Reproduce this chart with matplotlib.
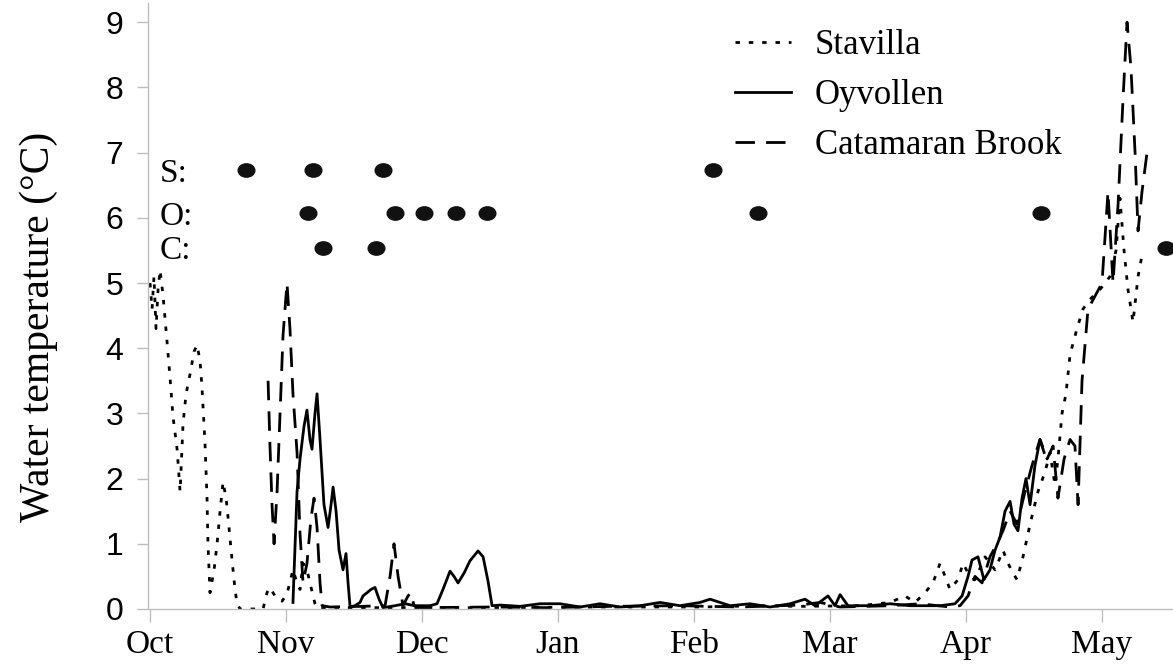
import matplotlib

matplotlib.use("Agg")
import matplotlib.pyplot as plt  # noqa: E402
from matplotlib.path import Path  # noqa: E402
from matplotlib.transforms import Affine2D  # noqa: E402


# x values are months after 1 October (0 = Oct, 1 = Nov, ...)
MONTHS = ["Oct", "Nov", "Dec", "Jan", "Feb", "Mar", "Apr", "May"]

STAVILLA_X = [
    0.000, 0.015, 0.029, 0.044, 0.059, 0.074, 0.096, 0.125, 0.147, 0.169,
    0.199, 0.221, 0.243, 0.265, 0.294, 0.324, 0.346, 0.368, 0.382, 0.404,
    0.419, 0.426, 0.441, 0.471, 0.493, 0.515, 0.537, 0.559, 0.574, 0.603,
    0.625, 0.640, 0.662, 0.831, 0.860, 0.882, 0.904, 0.934, 0.971, 1.007,
    1.051, 1.081, 1.103, 1.125, 1.154, 1.176, 1.213, 1.235, 1.324, 1.838,
    2.574, 3.309, 4.044, 4.485, 4.779, 5.221, 5.441, 5.551, 5.625, 5.699,
    5.757, 5.809, 5.846, 5.882, 5.941, 5.978, 6.015, 6.066, 6.140, 6.213,
    6.272, 6.309, 6.346, 6.375, 6.419, 6.471, 6.529, 6.581, 6.618, 6.654,
    6.676, 6.706, 6.735, 6.765, 6.816, 6.860, 6.912, 6.985, 7.059, 7.103,
    7.132, 7.162, 7.191, 7.228, 7.265, 7.301,
]
STAVILLA_T = [
    5.0, 4.6, 5.1, 4.3, 4.9, 5.2, 4.8, 4.1, 3.55, 2.95,
    2.45, 1.8, 2.85, 3.3, 3.6, 3.95, 4.05, 3.8, 3.4, 2.55,
    1.7, 1.0, 0.25, 0.6, 1.0, 1.5, 1.95, 1.7, 1.4, 0.75,
    0.3, 0.08, 0.0, 0.0, 0.25, 0.33, 0.25, 0.15, 0.12, 0.23,
    0.6, 0.4, 0.3, 0.7, 0.6, 0.4, 0.08, 0.0, 0.02, 0.02,
    0.02, 0.03, 0.03, 0.05, 0.04, 0.05, 0.1, 0.2, 0.1, 0.25,
    0.4, 0.7, 0.5, 0.3, 0.45, 0.7, 0.55, 0.45, 0.8, 0.6,
    0.9, 0.7, 0.55, 0.45, 0.8, 1.3, 1.8, 2.1, 2.4, 1.9,
    2.3, 3.0, 3.3, 3.9, 4.3, 4.6, 4.75, 4.9, 5.1, 5.5,
    6.3, 5.5, 4.9, 4.4, 5.1, 5.5,
]

OYVOLLEN_X = [
    1.051, 1.081, 1.103, 1.132, 1.154, 1.176, 1.191, 1.213, 1.228, 1.250,
    1.279, 1.309, 1.331, 1.346, 1.368, 1.390, 1.419, 1.441, 1.456, 1.471,
    1.507, 1.544, 1.566, 1.596, 1.625, 1.654, 1.684, 1.713, 1.801, 1.875,
    1.949, 2.059, 2.110, 2.154, 2.206, 2.235, 2.265, 2.309, 2.353, 2.412,
    2.449, 2.485, 2.515, 2.574, 2.721, 2.868, 3.015, 3.162, 3.309, 3.456,
    3.603, 3.750, 3.897, 4.044, 4.118, 4.265, 4.412, 4.559, 4.706, 4.816,
    4.890, 4.985, 5.037, 5.074, 5.132, 5.294, 5.441, 5.588, 5.809, 5.919,
    5.971, 6.015, 6.044, 6.088, 6.132, 6.176, 6.213, 6.250, 6.287, 6.324,
    6.353, 6.382, 6.412, 6.441, 6.471, 6.507, 6.544, 6.574,
]
OYVOLLEN_T = [
    0.1, 1.8, 2.3, 2.8, 3.05, 2.6, 2.45, 3.0, 3.3, 2.6,
    1.6, 1.25, 1.6, 1.87, 1.5, 0.9, 0.6, 0.85, 0.4, 0.03,
    0.05, 0.1, 0.2, 0.25, 0.3, 0.33, 0.15, 0.02, 0.05, 0.08,
    0.05, 0.05, 0.08, 0.3, 0.58, 0.5, 0.4, 0.55, 0.74, 0.89,
    0.8, 0.43, 0.05, 0.06, 0.04, 0.08, 0.08, 0.03, 0.08, 0.03,
    0.05, 0.1, 0.05, 0.1, 0.15, 0.05, 0.08, 0.03, 0.08, 0.15,
    0.05, 0.2, 0.05, 0.22, 0.05, 0.05, 0.08, 0.05, 0.05, 0.08,
    0.2, 0.5, 0.75, 0.8, 0.45, 0.6, 0.9, 1.1, 1.5, 1.65,
    1.3, 1.2, 1.7, 2.0, 1.6, 2.2, 2.6, 2.4,
]

CATAMARAN_X = [
    0.868, 0.882, 0.897, 0.912, 0.934, 0.956, 0.978, 1.007, 1.029, 1.051,
    1.081, 1.103, 1.125, 1.154, 1.184, 1.206, 1.228, 1.250, 1.265, 1.324,
    1.544, 1.728, 1.765, 1.794, 1.824, 1.860, 1.897, 1.919, 1.941, 1.985,
    2.500, 2.941, 3.382, 3.897, 4.338, 4.779, 4.926, 5.074, 5.441, 5.662,
    5.882, 5.956, 6.015, 6.066, 6.118, 6.176, 6.228, 6.272, 6.324, 6.375,
    6.434, 6.485, 6.544, 6.596, 6.640, 6.676, 6.721, 6.765, 6.801, 6.824,
    6.853, 6.897, 6.949, 7.000, 7.044, 7.081, 7.118, 7.154, 7.184, 7.213,
    7.243, 7.265, 7.294, 7.331,
]
CATAMARAN_T = [
    3.5, 2.5, 1.6, 1.0, 1.8, 3.0, 4.2, 5.0, 4.3, 3.3,
    2.4, 1.15, 0.4, 0.7, 1.4, 1.7, 1.25, 0.4, 0.05, 0.03,
    0.04, 0.05, 0.5, 1.0, 0.5, 0.05, 0.2, 0.25, 0.05, 0.02,
    0.03, 0.02, 0.04, 0.05, 0.03, 0.06, 0.1, 0.03, 0.05, 0.08,
    0.03, 0.05, 0.2, 0.5, 0.4, 0.8, 1.0, 1.2, 1.5, 1.3,
    1.8, 2.2, 2.6, 2.3, 2.5, 1.7, 2.3, 2.6, 2.5, 1.6,
    3.5, 4.6, 4.8, 5.0, 6.4, 5.0, 6.2, 7.8, 9.0, 8.3,
    7.0, 5.8, 6.4, 7.0,
]

# sampling dates per river, drawn as rows of dots
SAMPLE_LABELS = ["S:", "O:", "C:"]
SAMPLE_LEVELS = [6.73, 6.07, 5.54]
SAMPLE_DATES = [
    [0.706, 1.199, 1.713, 4.140],
    [1.162, 1.801, 2.015, 2.250, 2.478, 4.470, 6.550],
    [1.272, 1.662, 7.470],
]

SERIES = [
    ("Stavilla", STAVILLA_X, STAVILLA_T, (0, (1.6, 3.2))),
    ("Oyvollen", OYVOLLEN_X, OYVOLLEN_T, "-"),
    ("Catamaran Brook", CATAMARAN_X, CATAMARAN_T, (0, (7, 4))),
]


def main() -> None:
    serif = ["Liberation Serif", "DejaVu Serif"]
    sans = ["Liberation Sans", "DejaVu Sans"]
    axis_grey = "#bdbdbd"

    fig = plt.figure(figsize=(11.73, 6.67), dpi=100)
    ax = fig.add_axes((0.1262, 0.0870, 0.8738, 0.909))

    for name, xs, ys, style in SERIES:
        ax.plot(xs, ys, color="black", linewidth=2.0, linestyle=style, label=name)

    dot = Path.unit_circle().transformed(Affine2D().scale(1.0, 0.8))
    for label, level, dates in zip(SAMPLE_LABELS, SAMPLE_LEVELS, SAMPLE_DATES):
        ax.plot(dates, [level] * len(dates), linestyle="none", marker=dot,
                markersize=12, color="#111111", clip_on=False)
        ax.text(0.07, level - 0.05, label, fontsize=24, family=serif,
                ha="left", va="center")

    ax.set_xlim(-0.0147, 7.522)
    ax.set_ylim(0, 9.3)
    ax.set_xticks(range(len(MONTHS)))
    ax.set_xticklabels(MONTHS, family=serif, fontsize=24)
    ax.set_yticks(range(10))
    ax.set_yticklabels([str(v) for v in range(10)], family=sans, fontsize=23)
    ax.tick_params(axis="x", direction="out", length=9, width=1, color=axis_grey, pad=6)
    ax.tick_params(axis="y", direction="out", length=8, width=1, color=axis_grey, pad=10)
    for side in ("top", "right"):
        ax.spines[side].set_visible(False)
    for side in ("left", "bottom"):
        ax.spines[side].set_color(axis_grey)
        ax.spines[side].set_linewidth(1.0)
    ax.set_ylabel("Water temperature (°C)", family=serif, fontsize=30)
    ax.yaxis.set_label_coords(-0.088, 0.465)

    fig.legend(loc="upper left", bbox_to_anchor=(0.612, 0.982), frameon=False,
               prop={"family": serif, "size": 25}, handlelength=1.6,
               handletextpad=0.7, labelspacing=0.48, borderpad=0)

    fig.savefig("out.png", dpi=100)
    plt.close(fig)


if __name__ == "__main__":
    main()
